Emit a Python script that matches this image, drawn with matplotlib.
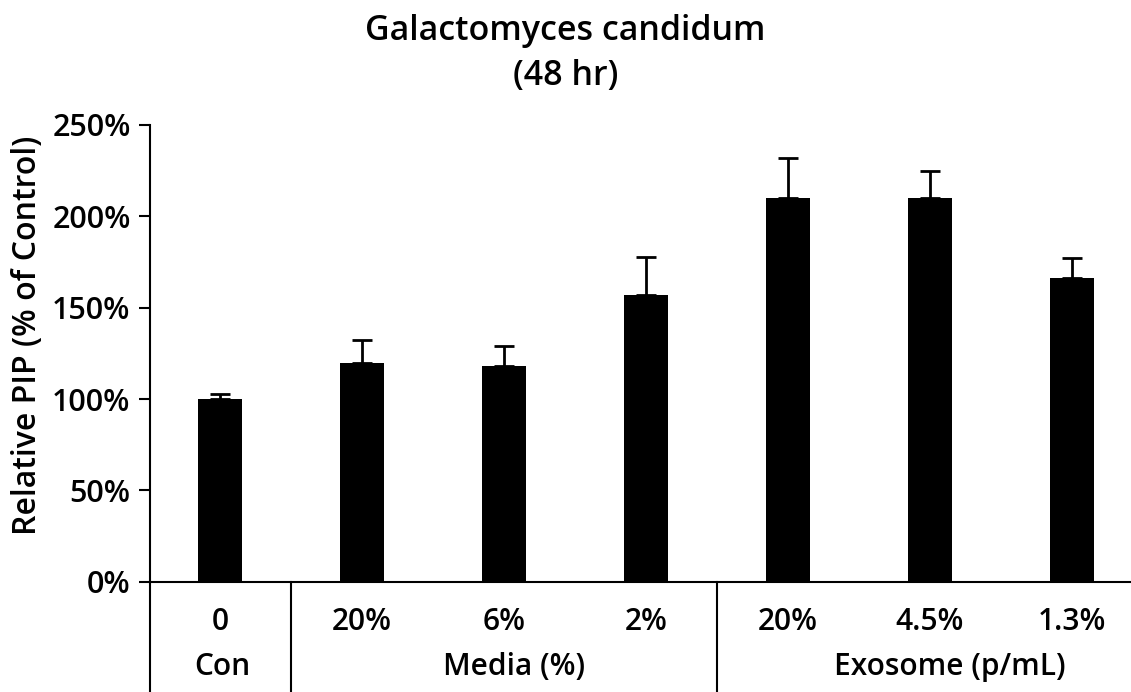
import matplotlib.pyplot as plt
import numpy as np

plt.rcParams['font.family'] = ['Open Sans', 'Noto Sans', 'DejaVu Sans']
plt.rcParams['font.weight'] = 'semibold'
plt.rcParams['axes.labelweight'] = 'semibold'

# Relative PIP per treatment (% of control), upper error only
doses = ['0', '20%', '6%', '2%', '20%', '4.5%', '1.3%']
values = [100, 119.5, 118, 157, 210, 210, 166.5]
errors = [3, 13, 11, 21, 22, 15, 10.5]
groups = ['Con', 'Media (%)', 'Exosome (p/mL)']
group_centers = [0.02, 2.07, 5.14]
group_edges = [0.5, 3.5]
yticks = [0, 50, 100, 150, 200, 250]

fig = plt.figure(figsize=(11.31, 6.92), dpi=100)
ax = fig.add_axes([0.1326, 0.1594, 0.8674, 0.66])

x = np.arange(len(values))
ax.bar(x, values, width=0.31, color='black', zorder=2)
ax.errorbar(x, values, yerr=[np.zeros(len(errors)), errors], fmt='none',
            ecolor='black', elinewidth=2, capsize=7.5, capthick=2, zorder=1)

ax.set_xlim(-0.493, 6.415)
ax.set_ylim(0, 250)
ax.set_yticks(yticks)
ax.set_yticklabels([f'{t}%' for t in yticks], fontsize=22)
ax.set_xticks([])
ax.tick_params(axis='y', direction='out', length=8, width=1.5, pad=6)

for side in ['top', 'right']:
    ax.spines[side].set_visible(False)
ax.spines['left'].set_linewidth(1.5)
ax.spines['bottom'].set_linewidth(1.5)

ax.set_ylabel('Relative PIP (% of Control)', fontsize=23)
ax.yaxis.set_label_coords(-0.108, 0.54)

# category dividers below the axis
trans = ax.get_xaxis_transform()
for xe in [ax.get_xlim()[0]] + group_edges:
    ax.plot([xe, xe], [0, -0.25], transform=trans, color='black',
            lw=1.5, clip_on=False)

for xi, lab in zip(x, doses):
    ax.text(xi, -0.106, lab, transform=trans, ha='center', va='baseline',
            fontsize=21.5)
for xc, lab in zip(group_centers, groups):
    ax.text(xc, -0.2045, lab, transform=trans, ha='center', va='baseline',
            fontsize=21.5)

fig.text(0.5, 0.955, 'Galactomyces candidum', ha='center', va='center',
         fontsize=24.5)
fig.text(0.5, 0.89, '(48 hr)', ha='center', va='center', fontsize=24.5)

fig.savefig('out.png', dpi=100)
